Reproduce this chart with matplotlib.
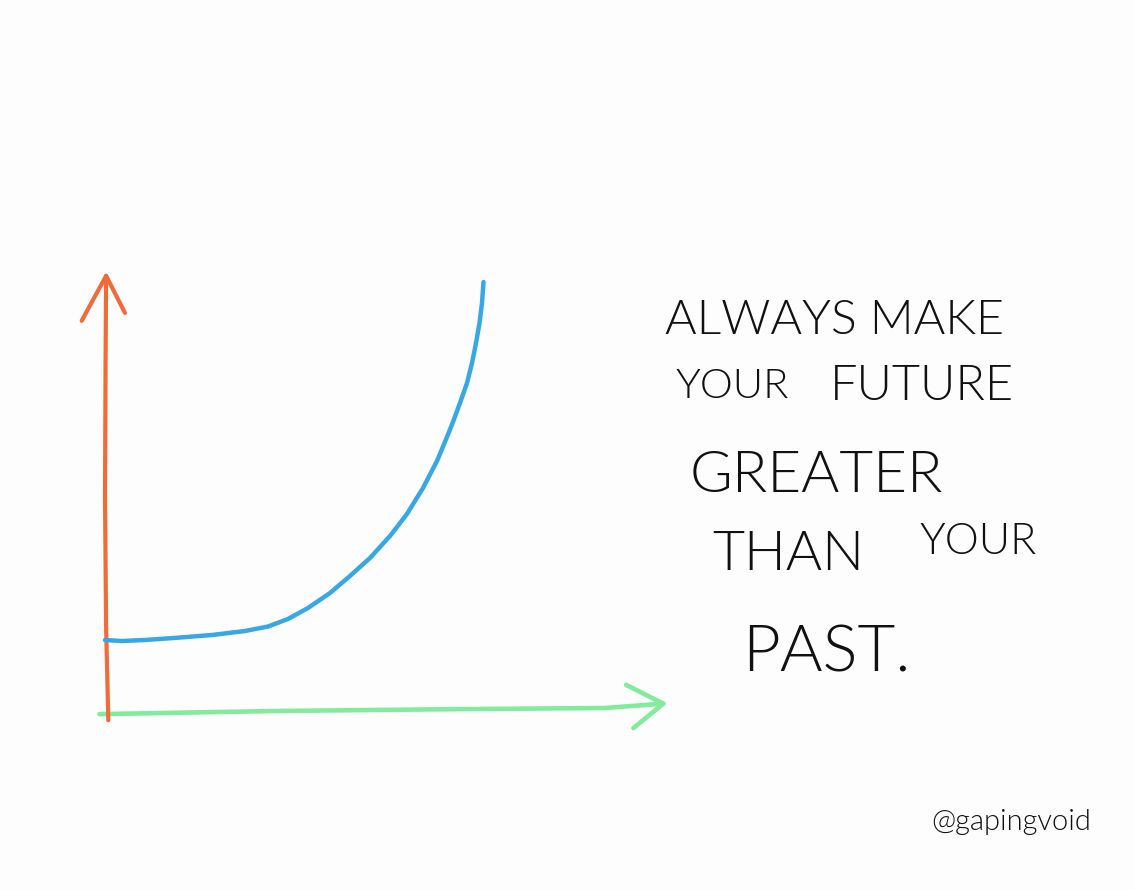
import matplotlib
matplotlib.use("Agg")
import matplotlib.pyplot as plt

# ---- data (time -> how great things are) ----
curve_x = [0, 3.0, 7.2, 13.15, 19.28, 25.23, 29.37, 32.97, 36.58, 40.54,
           44.14, 47.75, 51.35, 54.41, 57.30, 59.82, 61.62, 62.70, 63.96,
           65.23, 66.13, 66.85, 67.48, 67.93, 68.20]
curve_y = [17.16, 16.93, 17.16, 17.69, 18.31, 19.22, 20.25, 21.97, 24.49,
           27.92, 31.81, 35.93, 40.96, 46.0, 51.95, 58.12, 63.62, 67.05,
           71.40, 75.97, 80.55, 85.13, 89.70, 94.28, 99.08]

# hand-drawn axes (with arrowheads)
yaxis_x = [0.6, 0.2, 0.0, 0.1, 0.2]
yaxis_y = [-1.2, 20, 50, 80, 100.5]
yarrow_x = [-4.2, 0.2, 3.6]
yarrow_y = [90.2, 100.5, 92.0]

xaxis_x = [-1.0, 30, 60, 90, 100.6]
xaxis_y = [0.2, 0.9, 1.3, 1.6, 2.6]
xarrow_x = [93.9, 100.6, 95.2]
xarrow_y = [6.9, 2.6, -3.0]

words = ["ALWAYS MAKE", "YOUR", "FUTURE", "GREATER", "THAN", "YOUR", "PAST."]
credit = "@gapingvoid"

ORANGE = "#F2693A"
BLUE = "#38A7E6"
GREEN = "#80EC9C"

W, H = 1134, 890
fig = plt.figure(figsize=(W / 100, H / 100), dpi=100)
fig.patch.set_facecolor("#FDFDFD")

ax = fig.add_axes([105 / W, (H - 715) / H, 555 / W, 437 / H])
ax.set_xlim(0, 100)
ax.set_ylim(0, 100)
ax.axis("off")

kw = dict(solid_capstyle="round", solid_joinstyle="round", clip_on=False)
ax.plot(xaxis_x, xaxis_y, color=GREEN, lw=3.3, **kw)
ax.plot(xarrow_x, xarrow_y, color=GREEN, lw=3.3, **kw)
ax.plot(yaxis_x, yaxis_y, color=ORANGE, lw=3.0, **kw)
ax.plot(yarrow_x, yarrow_y, color=ORANGE, lw=3.0, **kw)
ax.plot(curve_x, curve_y, color=BLUE, lw=3.2, **kw)

font = dict(family=["Lato", "DejaVu Sans"], weight=300, color="#111111")
text_pos = [(665, 321, 34.8), (676, 387, 30), (830, 386, 35), (690, 477, 42),
            (712, 555, 40), (920, 543, 31), (742, 653, 47)]
for s, (px, py, fs) in zip(words, text_pos):
    fig.text(px / W, 1 - py / H, s, ha="left", va="center", fontsize=fs, **font)

fig.text(931 / W, 1 - 822 / H, credit, ha="left", va="center", fontsize=21,
         **font)

fig.savefig("out.png", dpi=100, facecolor=fig.get_facecolor())
